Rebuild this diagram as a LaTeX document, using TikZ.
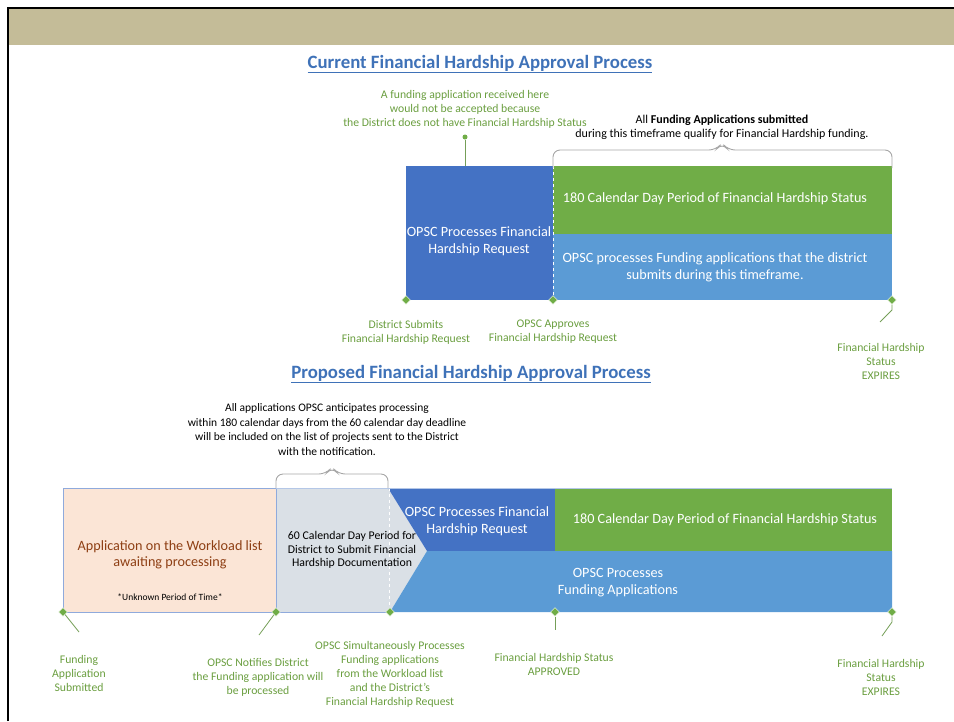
\documentclass[tikz,border=0pt]{standalone}
\usepackage{fontspec}
\setmainfont{Carlito}
\usetikzlibrary{shapes.geometric}
\definecolor{tan}{HTML}{C4BC98}
\definecolor{dblue}{HTML}{4472C4}
\definecolor{lblue}{HTML}{5B9BD5}
\definecolor{fgreen}{HTML}{70AD47}
\definecolor{tgreen}{HTML}{6A9E3F}
\definecolor{ttl}{HTML}{3F72B8}
\definecolor{peach}{HTML}{FBE5D6}
\definecolor{brown}{HTML}{8E3F14}
\definecolor{gbox}{HTML}{DAE0E6}
\definecolor{brace}{HTML}{A6A6A6}
\tikzset{
  lbl/.style={text=tgreen, font=\fontsize{11.7}{14}\selectfont, align=center, inner sep=0pt},
  note/.style={text=black, font=\fontsize{11.5}{14.4}\selectfont, align=center, inner sep=0pt},
  btxt/.style={text=white, font=\fontsize{14.2}{16.8}\selectfont, align=center, inner sep=0pt},
  ttlstyle/.style={text=ttl, font=\fontsize{18.8}{20}\selectfont\bfseries, inner sep=0pt},
  dmd/.style={diamond, fill=fgreen, draw=white, line width=0.4pt, minimum size=9pt, inner sep=0pt},
  leader/.style={draw=fgreen!70!gray, line width=0.8pt},
  bracestyle/.style={draw=brace, line width=0.9pt, rounded corners=7pt},
}
\begin{document}
\begin{tikzpicture}[x=1pt,y=-1pt]
\useasboundingbox (0,0) rectangle (954,721);
% frame and header band
\fill[tan] (9,9) rectangle (954,45);
\draw[black, line width=2.5pt] (8,721) -- (8,8) -- (954,8);

% ===== Current process =====
\node[ttlstyle] (t1) at (480,64) {\underline{Current Financial Hardship Approval Process}};
\node[lbl] (n1) at (465,109) {A funding application received here\\would not be accepted because\\the District does not have Financial Hardship Status};
\node[note, font=\fontsize{12}{13.5}\selectfont] (n2) at (722,127.5) {All \textbf{Funding Applications submitted}\\during this timeframe qualify for Financial Hardship funding.};

\fill[dblue] (406,166) rectangle (553,300);
\fill[fgreen] (553,166) rectangle (892,234);
\fill[lblue] (553,234) rectangle (892,300);
\draw[white, dashed, line width=0.5pt] (553,166) -- (553,300);
\node[btxt] (a1) at (479,241) {OPSC Processes Financial\\Hardship Request};
\node[btxt] (a2) at (715,199) {180 Calendar Day Period of Financial Hardship Status};
\node[btxt] (a3) at (715,267) {OPSC processes Funding applications that the district\\submits during this timeframe.};
\coordinate (c1top) at (465,166);
\node[circle, fill=fgreen, inner sep=0pt, minimum size=5pt] (d0) at (465,137) {};
\draw[leader] (d0) -- (c1top);
\draw[bracestyle] (553,168) |- (716,150) -- (722,143) -- (728,150) -| (892,168);

\node[dmd] (d1) at (406,300) {};
\node[dmd] (d2) at (553,300) {};
\node[dmd] (d3) at (892,300) {};
\coordinate (e3a) at (892,310);
\coordinate (e3b) at (880,322);
\draw[leader] (d3) -- (e3a) -- (e3b);
\node[lbl] (l1) at (406,332) {District Submits\\Financial Hardship Request};
\node[lbl] (l2) at (553,332) {OPSC Approves\\Financial Hardship Request};
\node[lbl] (l3) at (881,361) {Financial Hardship\\Status\\EXPIRES};

% ===== Proposed process =====
\node[ttlstyle] (t2) at (471,374) {\underline{Proposed Financial Hardship Approval Process}};
\node[note] (n3) at (327,429.5) {All applications OPSC anticipates processing\\within 180 calendar days from the 60 calendar day deadline\\will be included on the list of projects sent to the District\\with the notification.};
\draw[bracestyle] (276,490) |- (326,474) -- (332,467) -- (338,474) -| (388,490);

\fill[peach] (63,488) rectangle (276,612);
\fill[gbox] (276,488) -- (388,488) -- (427,551) -- (390,612) -- (276,612) -- cycle;
\fill[dblue] (388,488) -- (555,488) -- (555,551) -- (427,551) -- cycle;
\fill[fgreen] (555,488) rectangle (892,551);
\fill[lblue] (427,551) -- (892,551) -- (892,612) -- (390,612) -- cycle;
\draw[white, dashed, line width=0.5pt] (389,488) -- (389,612);
\draw[dblue!60, line width=0.7pt] (63,488) rectangle (276,612);
\draw[dblue!40, line width=0.5pt] (276,488) -- (892,488);
\draw[dblue!60, line width=0.5pt] (276,612) -- (390,612);

\node[text=brown, font=\fontsize{14.2}{16.5}\selectfont, align=center, inner sep=0pt] (b1) at (170,555) {Application on the Workload list\\awaiting processing};
\node[text=black, font=\fontsize{9.5}{10}\selectfont, inner sep=0pt] (b1s) at (170,597) {*Unknown Period of Time*};
\node[text=black, font=\fontsize{11.8}{13.6}\selectfont, align=center, inner sep=0pt] (b2) at (352,550) {60 Calendar Day Period for\\District to Submit Financial\\Hardship Documentation};
\node[btxt] (b3) at (477,521.5) {OPSC Processes Financial\\Hardship Request};
\node[btxt] (b4) at (725,520) {180 Calendar Day Period of Financial Hardship Status};
\node[btxt] (b5) at (618,582.5) {OPSC Processes\\Funding Applications};

\node[dmd] (p1) at (63,612) {};
\node[dmd] (p2) at (276,612) {};
\node[dmd] (p3) at (390,612) {};
\node[dmd] (p4) at (555,612) {};
\node[dmd] (p5) at (892,612) {};
\coordinate (q1) at (79,632);
\coordinate (q2) at (259,635);
\coordinate (q4) at (555,630);
\coordinate (q5a) at (892,622);
\coordinate (q5b) at (882,636);
\draw[leader] (p1) -- (q1);
\draw[leader] (p2) -- (q2);
\draw[leader] (p4) -- (q4);
\draw[leader] (p5) -- (q5a) -- (q5b);

\node[lbl] (m1) at (79,673) {Funding\\Application\\Submitted};
\node[lbl] (m2) at (258,677) {OPSC Notifies District\\the Funding application will\\be processed};
\node[lbl] (m3) at (390,674.5) {OPSC Simultaneously Processes\\Funding applications\\from the Workload list\\and the District's\\Financial Hardship Request};
\node[lbl] (m4) at (554,664) {Financial Hardship Status\\APPROVED};
\node[lbl] (m5) at (881,677) {Financial Hardship\\Status\\EXPIRES};
\end{tikzpicture}
\end{document}
